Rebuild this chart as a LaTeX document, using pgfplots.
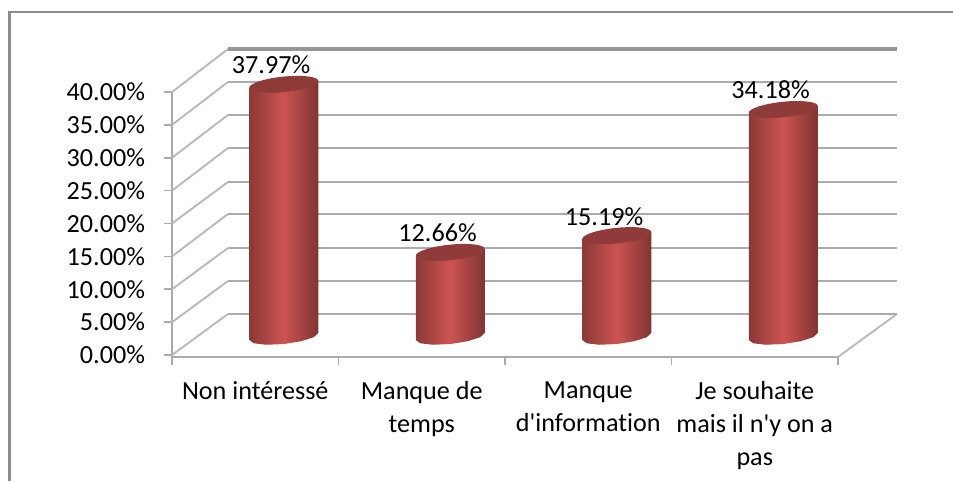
\documentclass[border=0pt]{standalone}
\usepackage{pgfplots}
\pgfplotsset{compat=1.18}
\usepackage{fontspec}
\setmainfont{Carlito}[Ligatures={TeXOff,CommonOff}]
\definecolor{gridc}{HTML}{ABABAB}
\definecolor{diagc}{HTML}{B8B8B8}
\definecolor{topc}{HTML}{969696}
\definecolor{frame}{HTML}{8C8C8C}
\definecolor{cdark}{HTML}{7E3533}
\definecolor{cmid}{HTML}{CD5351}
\definecolor{ctop}{HTML}{8E3B39}
\pgfdeclareplotmark{cyltop}{%
  \pgfpathellipse{\pgfpointorigin}{\pgfqpoint{25.9pt}{2.6pt}}{\pgfqpoint{-0.3pt}{5.8pt}}%
  \pgfusepathqfill}
\pgfplotsset{cylbody/.style={draw=none,left color=cdark!85!cmid,right color=cdark,middle color=cmid,forget plot}}
\begin{document}
\begin{tikzpicture}[x=0.75pt,y=0.75pt]
\path[use as bounding box] (0,0) rectangle (953,481);
\draw[frame,line width=1.6pt] (9.5,0) -- (9.5,469) -- (953,469);
% front plane: grid walls, floor and the axis lines
\begin{axis}[
  at={(129pt,93pt)},anchor=south west,scale only axis,
  width=499.5pt,height=198.75pt,
  xmin=0,xmax=4,ymin=-0.3,ymax=40,clip=false,
  axis x line*=bottom,axis y line*=left,
  axis line style={gridc,line width=2pt,-},
  tick style={gridc,line width=1.2pt},
  major tick length=6pt,tick align=outside,
  xtick={0,1,2,3,4},xticklabels={},
  extra x ticks={0.5,1.5,2.5,3.5},
  extra x tick style={major tick length=0pt,tick style={draw=none}},
  extra x tick labels={Non intéressé,Manque de\\temps,Manque\\d'information,Je souhaite\\mais il n'y on a\\pas},
  x tick label style={align=center,anchor=north,yshift=-15pt,font=\fontsize{19.6}{24.75}\selectfont},
  ytick={0,5,10,15,20,25,30,35,40},
  yticklabels={0.00\%,5.00\%,10.00\%,15.00\%,20.00\%,25.00\%,30.00\%,35.00\%,40.00\%},
  y tick label style={font=\fontsize{19.6}{24}\selectfont},
  yticklabel style={xshift=-10.75pt},
]
\addplot[diagc,line width=1.4pt] coordinates {(0,0) (0.336,6.24)};
\addplot[diagc,line width=1.4pt] coordinates {(0,5) (0.336,11.25)};
\addplot[diagc,line width=1.4pt] coordinates {(0,10) (0.336,16.27)};
\addplot[diagc,line width=1.4pt] coordinates {(0,15) (0.336,21.44)};
\addplot[diagc,line width=1.4pt] coordinates {(0,20) (0.336,26.31)};
\addplot[diagc,line width=1.4pt] coordinates {(0,25) (0.336,31.48)};
\addplot[diagc,line width=1.4pt] coordinates {(0,30) (0.336,36.5)};
\addplot[diagc,line width=1.4pt] coordinates {(0,35) (0.336,41.52)};
\addplot[diagc,line width=1.4pt] coordinates {(0,40) (0.336,46.53)};
\addplot[diagc,line width=1.4pt] coordinates {(4,-0.3) (4.354,6.24)};
\addplot[gridc,line width=1.9pt] coordinates {(0.336,6.24) (4.354,6.24)};
\addplot[gridc,line width=1.9pt] coordinates {(0.336,11.25) (4.354,11.25)};
\addplot[gridc,line width=1.9pt] coordinates {(0.336,16.27) (4.354,16.27)};
\addplot[gridc,line width=1.9pt] coordinates {(0.336,21.44) (4.354,21.44)};
\addplot[gridc,line width=1.9pt] coordinates {(0.336,26.31) (4.354,26.31)};
\addplot[gridc,line width=1.9pt] coordinates {(0.336,31.48) (4.354,31.48)};
\addplot[gridc,line width=1.9pt] coordinates {(0.336,36.5) (4.354,36.5)};
\addplot[gridc,line width=1.9pt] coordinates {(0.336,41.52) (4.354,41.52)};
\addplot[topc,line width=2.7pt] coordinates {(0.336,46.53) (4.354,46.53)};
\end{axis}
% middle plane: the cylinders
\begin{axis}[
  at={(150.4pt,108.4pt)},anchor=south west,scale only axis,
  width=499.5pt,height=199.2pt,
  xmin=0,xmax=4,ymin=0,ymax=40,clip=false,hide axis,
]
\addplot[cylbody] coordinates {(0.293,37.44) (0.707,38.5) (0.707,0.53) (0.68,-0.11) (0.604,-0.72) (0.5,-1.14) (0.396,-1.25) (0.32,-1.03) (0.293,-0.53)} -- cycle;
\addplot[cylbody] coordinates {(1.293,12.13) (1.707,13.19) (1.707,0.53) (1.68,-0.11) (1.604,-0.72) (1.5,-1.14) (1.396,-1.25) (1.32,-1.03) (1.293,-0.53)} -- cycle;
\addplot[cylbody] coordinates {(2.293,14.66) (2.707,15.72) (2.707,0.53) (2.68,-0.11) (2.604,-0.72) (2.5,-1.14) (2.396,-1.25) (2.32,-1.03) (2.293,-0.53)} -- cycle;
\addplot[cylbody] coordinates {(3.293,33.65) (3.707,34.71) (3.707,0.53) (3.68,-0.11) (3.604,-0.72) (3.5,-1.14) (3.396,-1.25) (3.32,-1.03) (3.293,-0.53)} -- cycle;
\addplot[only marks,mark=cyltop,ctop,
  nodes near coords={\pgfmathprintnumber[assume math mode=true,fixed,fixed zerofill,precision=2]{\pgfplotspointmeta}\%},
  point meta=explicit,
  every node near coord/.append style={black,anchor=center,xshift=-9.5pt,yshift=14.5pt,font=\fontsize{19.6}{24}\selectfont},
] coordinates {(0.5,37.97)[37.97] (1.5,12.66)[12.66] (2.5,15.19)[15.19] (3.5,34.18)[34.18]};
\end{axis}
\end{tikzpicture}
\end{document}
